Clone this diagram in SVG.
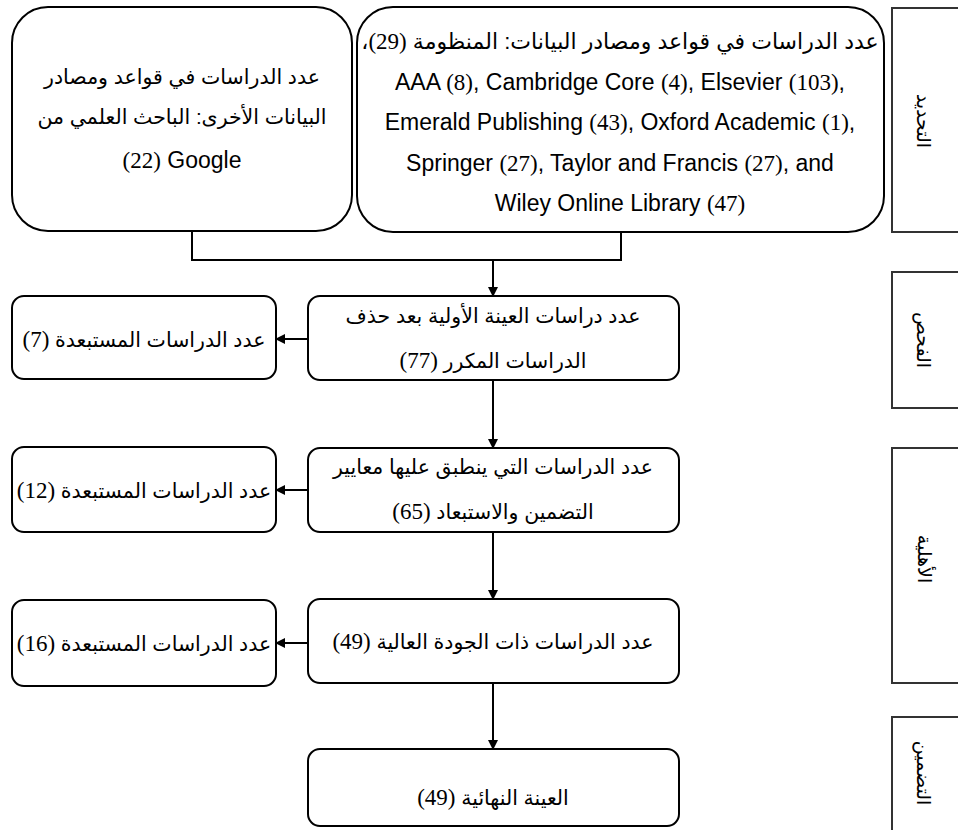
<svg xmlns="http://www.w3.org/2000/svg" width="958" height="830" viewBox="0 0 958 830">
<defs>
<marker id="ah" markerWidth="10" markerHeight="10" refX="9" refY="5" orient="auto" markerUnits="userSpaceOnUse">
<path d="M0,0 L10,5 L0,10 Z" fill="#000"/>
</marker>
<style>
.box{fill:#fff;stroke:#000;stroke-width:2}
.side{fill:#fff;stroke:#333;stroke-width:2}
.t{font-family:"Liberation Sans","DejaVu Sans",sans-serif;font-size:20.5px;fill:#000;text-anchor:middle}
.l{font-size:23px}
.ar{direction:rtl;unicode-bidi:embed}
.n{font-family:"Liberation Serif","DejaVu Serif",serif;font-size:23px}
.s{font-family:"DejaVu Sans",sans-serif;font-size:19px;fill:#000;text-anchor:middle;direction:rtl;unicode-bidi:embed}
.c{fill:none;stroke:#000;stroke-width:2}
</style>
</defs>
<rect width="958" height="830" fill="#fff"/>

<g id="stage-identification">
<rect class="side" x="892" y="8" width="80" height="224"/>
<text class="s" transform="translate(923,121) rotate(90)" y="6">التحديد</text>
</g>
<g id="stage-screening">
<rect class="side" x="892" y="272" width="80" height="136"/>
<text class="s" transform="translate(923,340) rotate(90)" y="6">الفحص</text>
</g>
<g id="stage-eligibility">
<rect class="side" x="892" y="448" width="80" height="235"/>
<text class="s" transform="translate(924,559) rotate(90)" y="6">الأهلية</text>
</g>
<g id="stage-inclusion">
<rect class="side" x="892" y="717" width="80" height="130"/>
<text class="s" transform="translate(923,773) rotate(90)" y="6">التضمين</text>
</g>

<g id="connectors">
<path class="c" d="M192,231 V260 H621 V232"/>
<path class="c" d="M493,260 V296" marker-end="url(#ah)"/>
<path class="c" d="M308,339 H276" marker-end="url(#ah)"/>
<path class="c" d="M493,380 V448" marker-end="url(#ah)"/>
<path class="c" d="M308,490 H276" marker-end="url(#ah)"/>
<path class="c" d="M493,532 V599" marker-end="url(#ah)"/>
<path class="c" d="M308,643 H276" marker-end="url(#ah)"/>
<path class="c" d="M493,683 V749" marker-end="url(#ah)"/>
</g>

<g id="databases">
<rect class="box" x="357" y="7" width="527" height="225" rx="36" ry="36"/>
<text class="t ar" x="620" y="49" style="font-size:22px">عدد الدراسات في قواعد ومصادر البيانات: المنظومة <tspan class="n">(29)</tspan>،</text>
<text class="t l" x="620" y="90">AAA <tspan class="n">(8)</tspan>, Cambridge Core <tspan class="n">(4)</tspan>, Elsevier <tspan class="n">(103)</tspan>,</text>
<text class="t l" x="620" y="130">Emerald Publishing <tspan class="n">(43)</tspan>, Oxford Academic <tspan class="n">(1)</tspan>,</text>
<text class="t l" x="620" y="171">Springer <tspan class="n">(27)</tspan>, Taylor and Francis <tspan class="n">(27)</tspan>, and</text>
<text class="t l" x="620" y="211">Wiley Online Library <tspan class="n">(47)</tspan></text>
</g>

<g id="other-sources">
<rect class="box" x="12" y="7" width="340" height="224" rx="36" ry="36"/>
<text class="t ar" x="182" y="84">عدد الدراسات في قواعد ومصادر</text>
<text class="t ar" x="182" y="124">البيانات الأخرى: الباحث العلمي من</text>
<text class="t l" x="182" y="168"><tspan class="n">(22)</tspan> Google</text>
</g>

<g id="screening">
<rect class="box" x="308" y="296" width="371" height="84" rx="12" ry="12"/>
<text class="t ar" x="493" y="323">عدد دراسات العينة الأولية بعد حذف</text>
<text class="t ar" x="493" y="368">الدراسات المكرر <tspan class="n">(77)</tspan></text>
</g>

<g id="excluded-7">
<rect class="box" x="12" y="296" width="264" height="83" rx="12" ry="12"/>
<text class="t ar" x="144" y="347">عدد الدراسات المستبعدة <tspan class="n">(7)</tspan></text>
</g>

<g id="eligibility">
<rect class="box" x="308" y="448" width="371" height="84" rx="12" ry="12"/>
<text class="t ar" x="493" y="474">عدد الدراسات التي ينطبق عليها معايير</text>
<text class="t ar" x="493" y="519">التضمين والاستبعاد <tspan class="n">(65)</tspan></text>
</g>

<g id="excluded-12">
<rect class="box" x="12" y="447" width="264" height="85" rx="12" ry="12"/>
<text class="t ar" x="144" y="498">عدد الدراسات المستبعدة <tspan class="n">(12)</tspan></text>
</g>

<g id="quality">
<rect class="box" x="308" y="599" width="371" height="84" rx="12" ry="12"/>
<text class="t ar" x="493" y="649">عدد الدراسات ذات الجودة العالية <tspan class="n">(49)</tspan></text>
</g>

<g id="excluded-16">
<rect class="box" x="12" y="600" width="264" height="86" rx="12" ry="12"/>
<text class="t ar" x="144" y="651">عدد الدراسات المستبعدة <tspan class="n">(16)</tspan></text>
</g>

<g id="final-sample">
<rect class="box" x="308" y="749" width="371" height="77" rx="12" ry="12"/>
<text class="t ar" x="493" y="805">العينة النهائية <tspan class="n">(49)</tspan></text>
</g>
</svg>
